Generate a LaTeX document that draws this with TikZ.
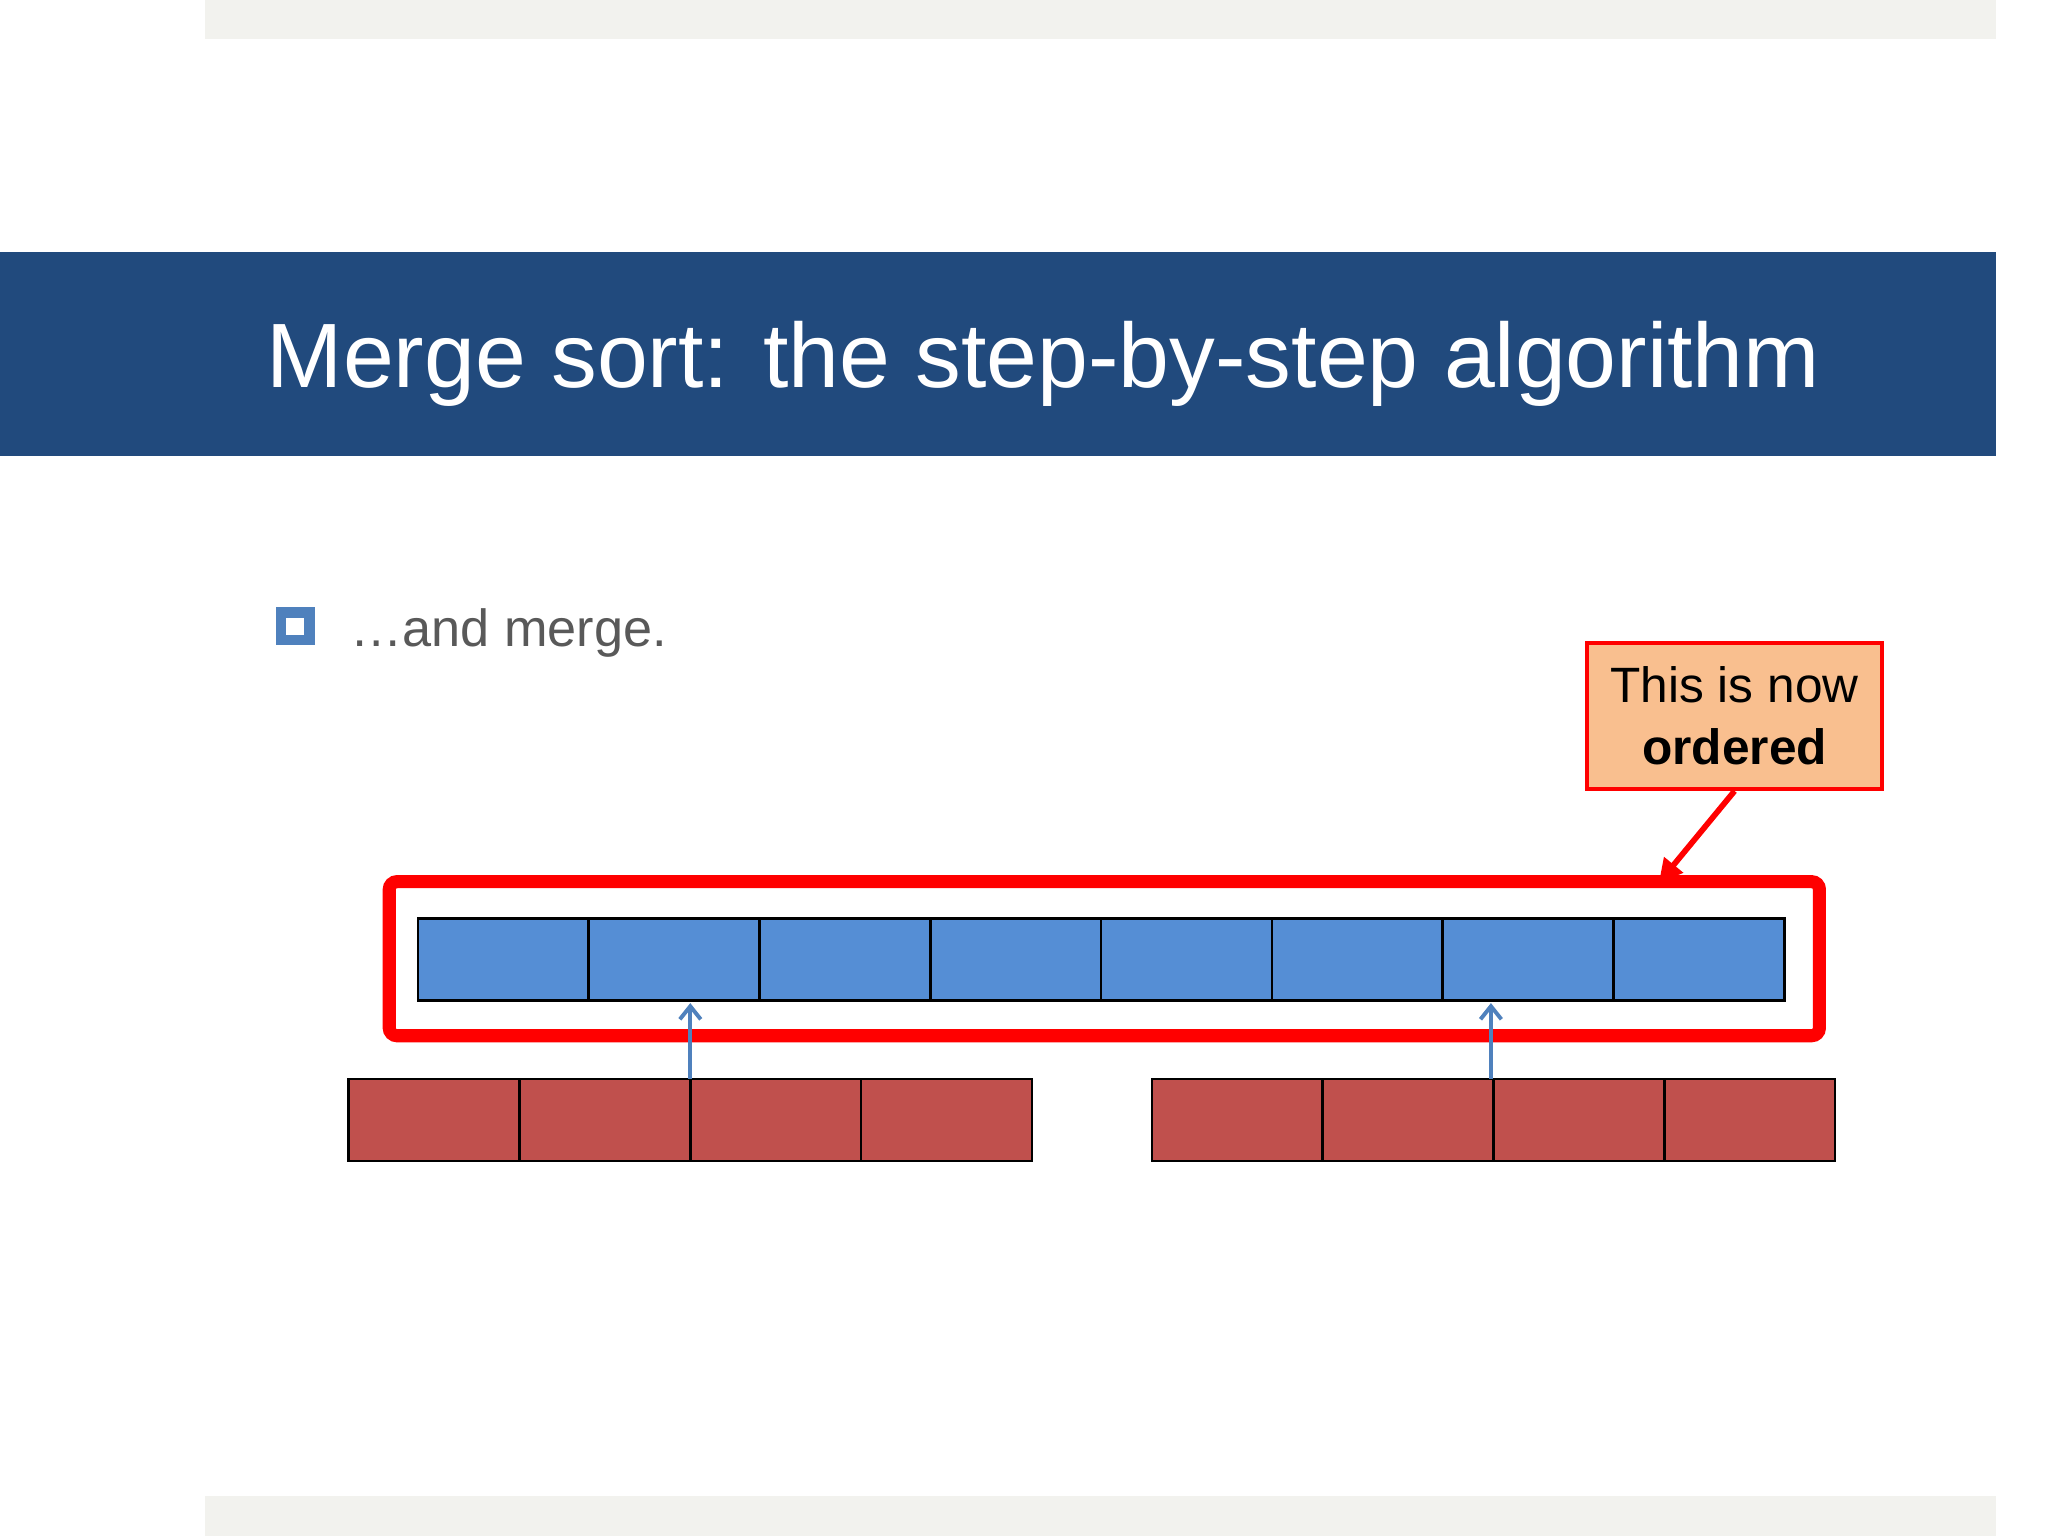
\documentclass[tikz,border=0pt]{standalone}
\usepackage{fontspec}
\setmainfont{Liberation Sans}
\usetikzlibrary{arrows.meta}
\definecolor{titlebg}{HTML}{214A7D}
\definecolor{bandgray}{HTML}{F2F2EE}
\definecolor{cellblue}{HTML}{558ED5}
\definecolor{cellred}{HTML}{C0504D}
\definecolor{arrowblue}{HTML}{4F81BD}
\definecolor{callfill}{HTML}{F9BF8F}
\definecolor{txtgray}{HTML}{595959}
\tikzset{
  bcell/.style={draw=black,line width=1pt,fill=cellblue,minimum width=65.4pt,minimum height=31.5pt,inner sep=0,outer sep=0},
  rcell/.style={draw=black,line width=1pt,fill=cellred,minimum width=65.4pt,minimum height=31.5pt,inner sep=0,outer sep=0},
  uparrow/.style={draw=arrowblue,line width=1.5pt,-{Straight Barb[length=5pt,width=8pt]}}
}
\begin{document}
\begin{tikzpicture}[x=0.5pt,y=-0.5pt]
\useasboundingbox[fill=white] (0,0) rectangle (1568,1176);
\fill[bandgray] (157,0) rectangle (1528,30);
\fill[bandgray] (157,1145) rectangle (1528,1176);
\fill[titlebg] (0,193) rectangle (1528,349);
\node[anchor=base west,text=white,font=\fontsize{35}{40}\selectfont,inner sep=0] (title) at (204,297) {Merge sort: the step-by-step algorithm};
\fill[arrowblue] (211,465) rectangle (241,494);
\fill[white] (219,473) rectangle (233,486);
\node[anchor=base west,text=txtgray,font=\fontsize{20}{24}\selectfont,inner sep=0] (bullet) at (268,495) {\ldots and merge.};
\node[draw=red,line width=1.6pt,fill=callfill,minimum width=113pt,minimum height=56pt,align=center,font=\fontsize{19}{24}\selectfont,inner sep=0] (call) at (1328,548) {This is now\\\textbf{ordered}};
\draw[red,line width=5pt,rounded corners=3pt] (298,675) rectangle (1393,793);
\foreach \i in {0,...,7} {
  \node[bcell,anchor=north west] (b\i) at ({320+\i*130.75},703) {};
}
\foreach \i in {0,...,3} {
  \node[rcell,anchor=north west] (l\i) at ({267+\i*130.75},826) {};
  \node[rcell,anchor=north west] (r\i) at ({882+\i*130.75},826) {};
}
\coordinate (redtip) at (1270,676);
\draw[red,line width=2.2pt,-{Triangle[length=9pt,width=9pt]}] (call.south) -- (redtip);
\draw[uparrow] (l2.north west) -- ++(0,-58);
\draw[uparrow] (r2.north west) ++(-2,0) -- ++(0,-58);
\end{tikzpicture}
\end{document}
